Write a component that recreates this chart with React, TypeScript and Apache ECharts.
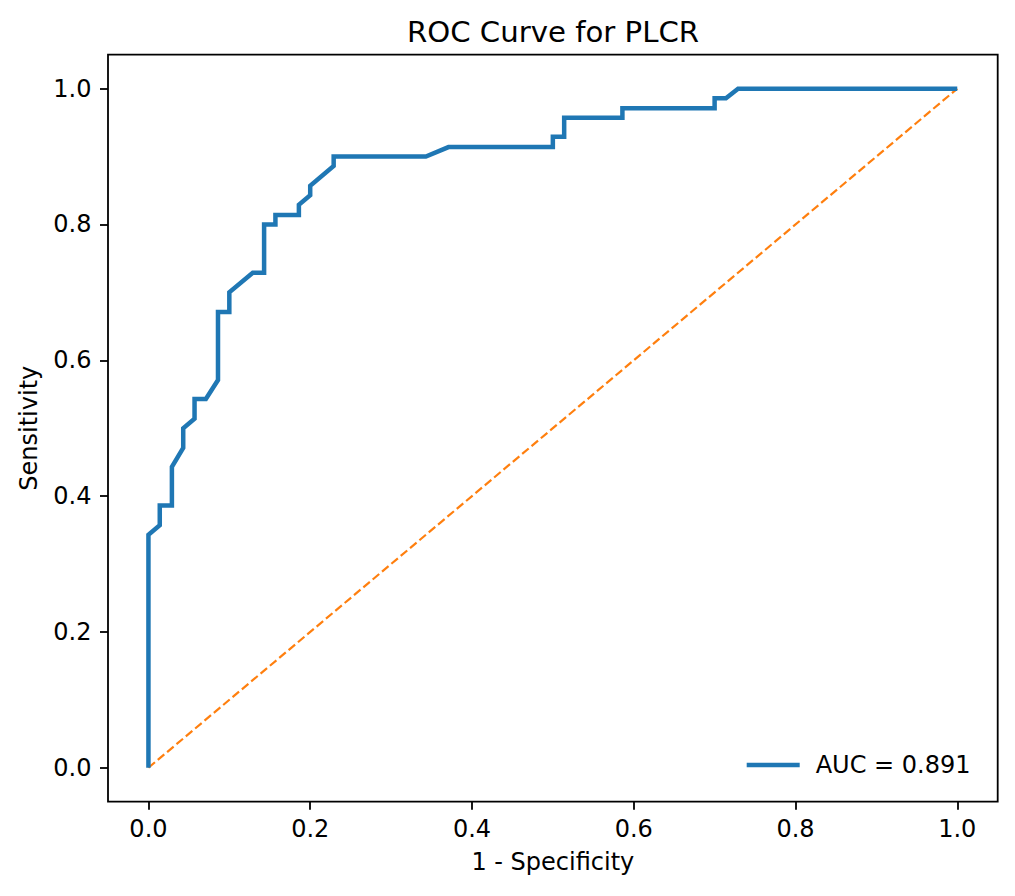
import { useEffect, useRef } from "react";
import * as echarts from "echarts";

// ROC points (1 - specificity, sensitivity)
const fpr = [
  0, 0, 0.014, 0.014, 0.029, 0.029, 0.043, 0.043, 0.057, 0.057, 0.071, 0.086, 0.086, 0.1, 0.1,
  0.129, 0.143, 0.143, 0.157, 0.157, 0.186, 0.186, 0.2, 0.2, 0.229, 0.229, 0.343, 0.371, 0.5,
  0.5, 0.514, 0.514, 0.586, 0.586, 0.7, 0.7, 0.714, 0.729, 1.0,
];
const tpr = [
  0, 0.343, 0.357, 0.386, 0.386, 0.443, 0.471, 0.5, 0.514, 0.543, 0.543, 0.571, 0.671, 0.671,
  0.7, 0.729, 0.729, 0.8, 0.8, 0.814, 0.814, 0.829, 0.843, 0.857, 0.886, 0.9, 0.9, 0.914, 0.914,
  0.929, 0.929, 0.957, 0.957, 0.971, 0.971, 0.986, 0.986, 1.0, 1.0,
];
const chanceX = [0, 1];
const chanceY = [0, 1];
const ticks = [0, 0.2, 0.4, 0.6, 0.8, 1.0];

const AUC_LABEL = "AUC = 0.891";
const TITLE = "ROC Curve for PLCR";
const FONT = "DejaVu Sans";

export default function App() {
  const ref = useRef<HTMLDivElement>(null);

  useEffect(() => {
    if (!ref.current) return;
    const chart = echarts.init(ref.current, undefined, { renderer: "svg" });

    const tickStyle = { show: true, inside: false, length: 8, lineStyle: { color: "#000", width: 1.8 }, customValues: ticks };
    const labelStyle = {
      fontFamily: FONT,
      fontSize: 24,
      color: "#000",
      customValues: ticks,
      formatter: (v: number) => v.toFixed(1),
    };

    chart.setOption({
      animation: false,
      textStyle: { fontFamily: FONT },
      graphic: [
        {
          type: "text",
          x: 553,
          y: 32,
          style: {
            text: TITLE,
            fontFamily: FONT,
            fontSize: 29.2,
            fill: "#000",
            textAlign: "center",
            textVerticalAlign: "middle",
          },
        },
      ],
      grid: {
        left: 108,
        right: 17.3,
        top: 54.7,
        bottom: 94.3,
        show: true,
        borderColor: "#000",
        borderWidth: 1.8,
        backgroundColor: "transparent",
      },
      legend: {
        data: [AUC_LABEL],
        left: 746.7,
        top: 753,
        padding: 0,
        icon: "rect",
        itemWidth: 53,
        itemHeight: 4.5,
        textStyle: {
          fontFamily: FONT,
          fontSize: 24,
          color: "#000",
          lineHeight: 24,
          padding: [0, 0, 0, 11],
        },
      },
      xAxis: {
        type: "value",
        min: -0.05,
        max: 1.05,
        name: "1 - Specificity",
        nameLocation: "middle",
        nameGap: 48,
        nameTextStyle: { fontFamily: FONT, fontSize: 24, color: "#000" },
        axisLine: { show: false, onZero: false },
        axisTick: tickStyle,
        axisLabel: { ...labelStyle, margin: 15 },
        splitLine: { show: false },
      },
      yAxis: {
        type: "value",
        min: -0.05,
        max: 1.05,
        name: "Sensitivity",
        nameLocation: "middle",
        nameGap: 67,
        nameTextStyle: { fontFamily: FONT, fontSize: 24, color: "#000" },
        axisLine: { show: false, onZero: false },
        axisTick: tickStyle,
        axisLabel: { ...labelStyle, margin: 16.5 },
        splitLine: { show: false },
      },
      series: [
        {
          name: AUC_LABEL,
          type: "line",
          data: fpr.map((x, i) => [x, tpr[i]]),
          showSymbol: false,
          symbol: "none",
          lineStyle: { color: "#1f77b4", width: 4.5, join: "miter" },
          itemStyle: { color: "#1f77b4" },
          z: 3,
        },
        {
          name: "chance",
          type: "line",
          data: chanceX.map((x, i) => [x, chanceY[i]]),
          showSymbol: false,
          symbol: "none",
          lineStyle: { color: "#ff7f0e", width: 2.2, type: [8.5, 3.7] },
          itemStyle: { color: "#ff7f0e" },
          z: 2,
        },
      ],
    });

    return () => {
      chart.dispose();
    };
  }, []);

  return (
    <div
      ref={ref}
      style={{ position: "fixed", left: 0, top: 0, width: 1015, height: 896, background: "#fff" }}
    />
  );
}
